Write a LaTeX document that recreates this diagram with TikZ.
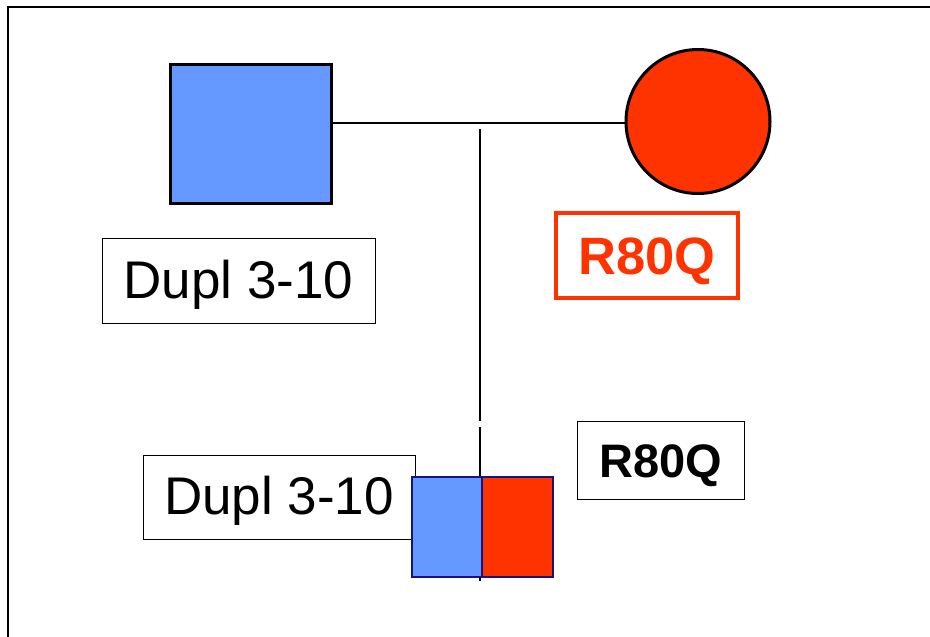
\documentclass[tikz,border=0pt]{standalone}
\usepackage{fontspec}
\setmainfont{Liberation Sans}
\definecolor{pblue}{HTML}{6699FF}
\definecolor{pred}{HTML}{FF3300}
\definecolor{pnavy}{HTML}{14147A}
\begin{document}
\begin{tikzpicture}[x=1pt,y=-1pt,
  labelbox/.style={draw, line width=1pt, inner sep=0pt, text depth=0pt},
  duptext/.style={font=\fontsize{53}{54}\selectfont, text height=35pt},
  line/.style={line width=1.6pt}]
\useasboundingbox (0,0) rectangle (930,637);
% frame
\draw[line width=2pt] (8,637) -- (8,7) -- (930,7);
% parents
\node[draw, line width=3.5pt, fill=pblue, minimum width=161pt, minimum height=139pt, inner sep=0pt] (father) at (251,134) {};
\node[draw, line width=3pt, fill=pred, circle, minimum size=144pt, inner sep=0pt] (mother) at (698,121.5) {};
\coordinate (mateL) at (father.east |- 0,123);
\coordinate (mateR) at (mother.west |- 0,123);
\draw[line] (mateL) -- (mateR);
% descent line
\coordinate (descTop) at (480,129);
\coordinate (gapTop) at (480,421);
\coordinate (gapBot) at (480,427);
\coordinate (descBot) at (480,581);
\draw[line] (descTop) -- (gapTop);
\draw[line] (gapBot) -- (descBot);
% labels
\node[labelbox, duptext, minimum width=273pt, minimum height=85pt] (dupA) at (238.5,280.5) {Dupl 3-10};
\node[labelbox, draw=pred, text=pred, line width=4pt, font=\fontsize{52.5}{53}\bfseries\selectfont, text height=37pt, minimum width=182pt, minimum height=85pt] (mutA) at (647,255.5) {R80Q};
\node[labelbox, font=\fontsize{47}{48}\bfseries\selectfont, text height=34pt, minimum width=167pt, minimum height=78pt] (mutB) at (660.5,460) {R80Q};
\node[labelbox, duptext, minimum width=272pt, minimum height=84pt] (dupB) at (279,497) {Dupl 3-10};
% child
\node[draw=pnavy, line width=2pt, fill=pblue, minimum width=70pt, minimum height=100pt, inner sep=0pt] (childL) at (447,527) {};
\node[draw=pnavy, line width=2pt, fill=pred, minimum width=71pt, minimum height=100pt, inner sep=0pt] (childR) at (517.5,527) {};
\end{tikzpicture}
\end{document}
